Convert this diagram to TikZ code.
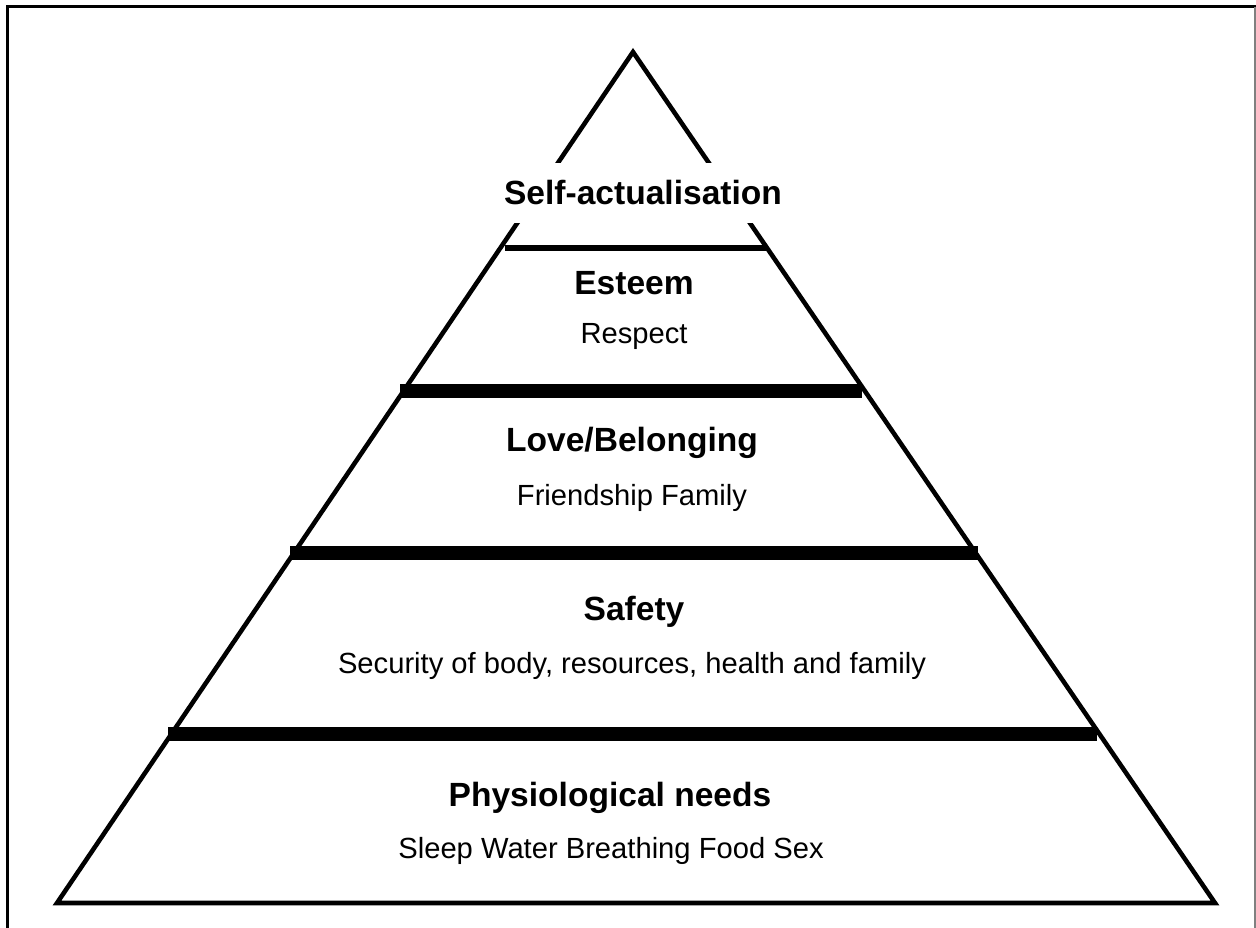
\documentclass[tikz,border=0pt]{standalone}
\usepackage{fontspec}
\setmainfont{Liberation Sans}
\tikzset{
  tier/.style={font=\fontsize{19.1}{22}\selectfont\bfseries},
  detail/.style={font=\fontsize{16.6}{19}\selectfont},
  bar/.style={line width=8.5pt},
}
\begin{document}
\begin{tikzpicture}[x=0.02cm,y=-0.02cm]
    \useasboundingbox (0,0) rectangle (1256,928);
    % frame
    \draw[line width=1.7pt] (7.5,928) -- (7.5,7) -- (1256,7);
    \draw[gray,line width=0.6pt] (1255,7) -- (1255,928);

    % pyramid
    \coordinate (apex) at (633,52);
    \coordinate (baseL) at (57,903);
    \coordinate (baseR) at (1215,903);
    \draw[line width=2.6pt,line join=miter] (baseL) -- (apex) -- (baseR) -- cycle;

    % top tier
    \node[tier,fill=white,minimum height=1.2cm,inner xsep=2pt] (self) at (643,193) {Self-actualisation};

    % separators
    \coordinate (s1L) at (505,248); \coordinate (s1R) at (768,248);
    \coordinate (s2L) at (400,391); \coordinate (s2R) at (862,391);
    \coordinate (s3L) at (290,553); \coordinate (s3R) at (978,553);
    \coordinate (s4L) at (168,734); \coordinate (s4R) at (1097,734);
    \draw[line width=3.6pt] (s1L) -- (s1R);
    \draw[bar] (s2L) -- (s2R);
    \draw[bar] (s3L) -- (s3R);
    \draw[bar] (s4L) -- (s4R);

    % Esteem
    \node[tier] (esteem) at (634,283) {Esteem};
    \node[detail] (respect) at (634,336) {Respect};

    % Love/Belonging
    \node[tier] (love) at (632,443) {Love/Belonging};
    \node[detail] (friends) at (632,498) {Friendship Family};

    % Safety
    \node[tier] (safety) at (634,612) {Safety};
    \node[detail] (security) at (632,666) {Security of body, resources, health and family};

    % Physiological needs
    \node[tier] (physio) at (610,798) {Physiological needs};
    \node[detail] (basics) at (611,851) {Sleep Water Breathing Food Sex};
\end{tikzpicture}
\end{document}
